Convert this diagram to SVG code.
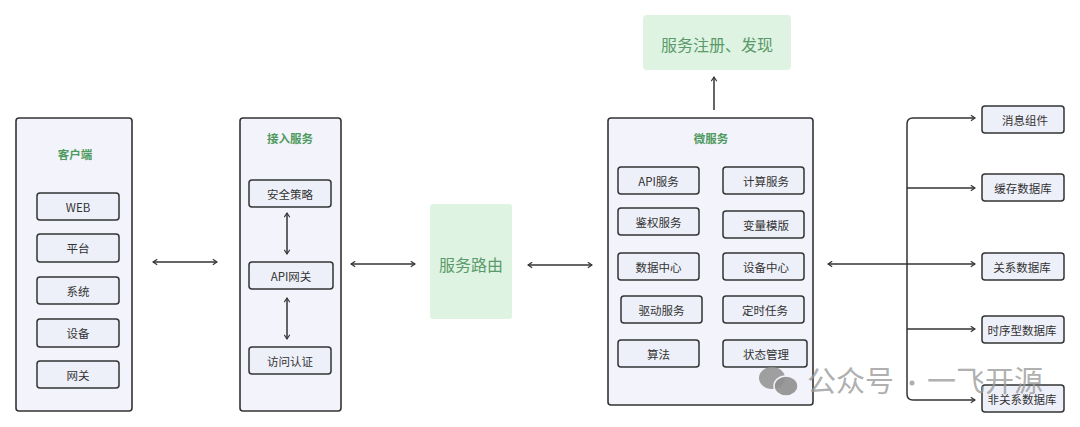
<svg xmlns="http://www.w3.org/2000/svg" width="1080" height="427" viewBox="0 0 1080 427">
<style>
.outer{fill:#f3f4fb;stroke:#333;stroke-width:1.6}
.inner{fill:#eef0f9;stroke:#333;stroke-width:1.5}
.lbl{font-family:"Noto Sans CJK SC","Liberation Sans",sans-serif;font-size:11.5px;fill:#333;text-anchor:middle;dominant-baseline:central}
.title{font-family:"Noto Sans CJK SC",sans-serif;font-size:11.5px;font-weight:bold;fill:#4e9a5e;text-anchor:middle;dominant-baseline:central}
.green{fill:#def3e2}
.gtxt{font-family:"Noto Sans CJK SC",sans-serif;font-size:16px;fill:#5a9a6a;text-anchor:middle;dominant-baseline:central}
.ln{fill:none;stroke:#333;stroke-width:1.5}
.wm{font-family:"Noto Sans CJK SC",sans-serif;font-size:29px;fill:#9a9a9a;fill-opacity:0.8}
</style>
<defs>
<marker id="ah" viewBox="0 0 10 10" refX="9" refY="5" markerWidth="7" markerHeight="7" orient="auto-start-reverse" markerUnits="userSpaceOnUse">
<polyline points="3,1 9,5 3,9" fill="none" stroke="#333" stroke-width="1.6"/>
</marker>
</defs>

<g id="client">
<rect class="outer" x="16" y="118" width="116" height="293" rx="3"/>
<text class="title" x="75" y="154">客户端</text>
<rect class="inner" x="37" y="193" width="82" height="27" rx="3"/><text class="lbl" x="78" y="206.5">WEB</text>
<rect class="inner" x="37" y="234" width="82" height="28" rx="3"/><text class="lbl" x="78" y="248">平台</text>
<rect class="inner" x="37" y="277" width="82" height="27" rx="3"/><text class="lbl" x="78" y="290.5">系统</text>
<rect class="inner" x="37" y="319" width="82" height="28" rx="3"/><text class="lbl" x="78" y="333">设备</text>
<rect class="inner" x="37" y="361" width="82" height="27" rx="3"/><text class="lbl" x="78" y="374.5">网关</text>
</g>

<g id="access">
<rect class="outer" x="240" y="118" width="101" height="293" rx="3"/>
<text class="title" x="290" y="138">接入服务</text>
<rect class="inner" x="249" y="180" width="82" height="27" rx="3"/><text class="lbl" x="290" y="193.5">安全策略</text>
<rect class="inner" x="249" y="262" width="84" height="27" rx="3"/><text class="lbl" x="291" y="275.5">API网关</text>
<rect class="inner" x="249" y="347" width="82" height="27" rx="3"/><text class="lbl" x="290" y="360.5">访问认证</text>
</g>

<g id="router">
<rect class="green" x="430" y="204" width="82" height="115" rx="3"/>
<text class="gtxt" x="471" y="264">服务路由</text>
</g>

<g id="registry">
<rect class="green" x="643" y="15" width="148" height="55" rx="4"/>
<text class="gtxt" x="717" y="44">服务注册、发现</text>
</g>

<g id="micro">
<rect class="outer" x="608" y="118" width="205" height="287" rx="3"/>
<text class="title" x="711" y="138">微服务</text>
<rect class="inner" x="618" y="167" width="81" height="27" rx="3"/><text class="lbl" x="658.5" y="180.5">API服务</text>
<rect class="inner" x="723" y="167" width="81" height="27" rx="3"/><text class="lbl" x="766" y="180.5">计算服务</text>
<rect class="inner" x="618" y="208" width="81" height="27" rx="3"/><text class="lbl" x="658.5" y="221.5">鉴权服务</text>
<rect class="inner" x="723" y="211" width="81" height="27" rx="3"/><text class="lbl" x="766" y="224.5">变量模版</text>
<rect class="inner" x="618" y="253" width="81" height="27" rx="3"/><text class="lbl" x="658.5" y="266.5">数据中心</text>
<rect class="inner" x="723" y="253" width="81" height="27" rx="3"/><text class="lbl" x="766" y="266.5">设备中心</text>
<rect class="inner" x="621" y="296" width="81" height="27" rx="3"/><text class="lbl" x="661.5" y="309.5">驱动服务</text>
<rect class="inner" x="723" y="296" width="81" height="27" rx="3"/><text class="lbl" x="765" y="309.5">定时任务</text>
<rect class="inner" x="618" y="340" width="81" height="27" rx="3"/><text class="lbl" x="658.5" y="353.5">算法</text>
<rect class="inner" x="723" y="340" width="84" height="27" rx="3"/><text class="lbl" x="766" y="353.5">状态管理</text>
</g>

<g id="mq"><rect class="inner" x="982" y="106" width="82" height="27" rx="3"/><text class="lbl" x="1025" y="119.5">消息组件</text></g>
<g id="cache"><rect class="inner" x="982" y="174" width="82" height="27" rx="3"/><text class="lbl" x="1023" y="187.5">缓存数据库</text></g>
<g id="rdb"><rect class="inner" x="982" y="253" width="82" height="27" rx="3"/><text class="lbl" x="1022" y="266.5">关系数据库</text></g>
<g id="tsdb"><rect class="inner" x="982" y="316" width="82" height="27" rx="3"/><text class="lbl" x="1022" y="329.5">时序型数据库</text></g>
<g id="nosql"><rect class="inner" x="982" y="385" width="82" height="27" rx="3"/><text class="lbl" x="1022" y="398.5">非关系数据库</text></g>

<g id="connectors">
<line class="ln" x1="153" y1="262" x2="217" y2="262" marker-start="url(#ah)" marker-end="url(#ah)"/>
<line class="ln" x1="287" y1="213" x2="287" y2="254" marker-start="url(#ah)" marker-end="url(#ah)"/>
<line class="ln" x1="287" y1="298" x2="287" y2="339" marker-start="url(#ah)" marker-end="url(#ah)"/>
<line class="ln" x1="351" y1="264" x2="415" y2="264" marker-start="url(#ah)" marker-end="url(#ah)"/>
<line class="ln" x1="528" y1="265" x2="592" y2="265" marker-start="url(#ah)" marker-end="url(#ah)"/>
<line class="ln" x1="714" y1="110" x2="714" y2="77" marker-end="url(#ah)"/>
<line class="ln" x1="828" y1="264" x2="975" y2="264" marker-start="url(#ah)" marker-end="url(#ah)"/>
<path class="ln" d="M975,118 H913 Q907,118 907,124 V394 Q907,400 913,400 H975" marker-end="url(#ah)"/>
<line class="ln" x1="975" y1="118" x2="975.1" y2="118" marker-end="url(#ah)"/>
<line class="ln" x1="907" y1="188" x2="975" y2="188" marker-end="url(#ah)"/>
<line class="ln" x1="907" y1="329" x2="975" y2="329" marker-end="url(#ah)"/>
</g>

<g id="watermark">
<ellipse cx="772" cy="378" rx="13" ry="11" fill="#8f8f8f" fill-opacity="0.85"/>
<ellipse cx="786" cy="386" rx="12" ry="10" fill="#8f8f8f" fill-opacity="0.9" stroke="#f3f4fb" stroke-width="1.5"/>
<text class="wm" x="807" y="392">公众号</text>
<circle cx="912" cy="383" r="2.5" fill="#9a9a9a" fill-opacity="0.8"/>
<text class="wm" x="927" y="392">一飞开源</text>
</g>
</svg>
